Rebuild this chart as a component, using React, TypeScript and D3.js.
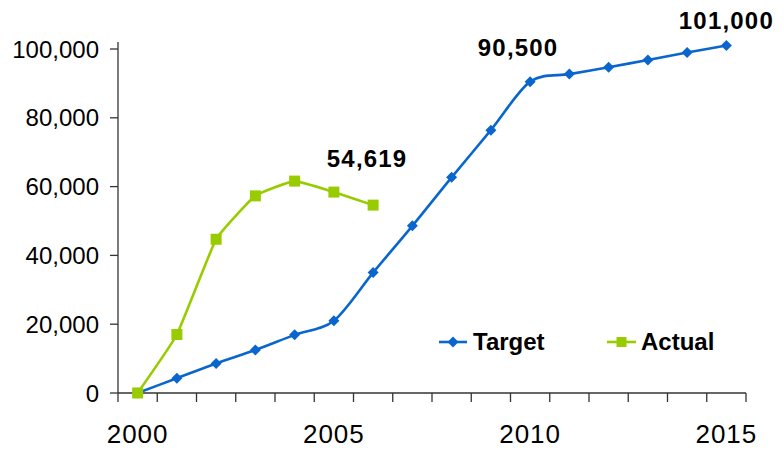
import React from "react";
import * as d3 from "d3";

const years = d3.range(2000, 2016);
const targetValues = [0, 4300, 8600, 12500, 16900, 21000, 35000, 48600, 62700, 76400, 90500, 92700, 94700, 96800, 99000, 101000];
const actualValues = [0, 17000, 44700, 57300, 61600, 58400, 54619];
const yTicks = [0, 20000, 40000, 60000, 80000, 100000];
const xLabelYears = [2000, 2005, 2010, 2015];
const seriesNames = ["Target", "Actual"];

const W = 784;
const H = 450;
const BLUE = "#0A66CC";
const GREEN = "#99CC00";
const FONT = "'Liberation Sans', Arial, sans-serif";

export default function App() {
  const x = d3.scaleBand<number>().domain(years).range([118, 746]).padding(0);
  const y = d3.scaleLinear().domain([0, 100000]).range([393, 49]);
  const cx = (yr: number) => (x(yr) as number) + x.bandwidth() / 2;
  const fmt = d3.format(",");

  const targetLine = d3
    .line<number>()
    .x((_, i) => cx(years[i]))
    .y((v) => y(v))
    .curve(d3.curveCardinal.tension(0.1));

  const actualLine = d3
    .line<number>()
    .x((_, i) => cx(years[i]))
    .y((v) => y(v))
    .curve(d3.curveCardinal.tension(0.65));

  const bandEdges = years.map((yr) => x(yr) as number).concat([x.range()[1]]);

  const diamond = (px: number, py: number, r = 5.5) =>
    `M${px},${py - r}L${px + r},${py}L${px},${py + r}L${px - r},${py}Z`;

  const lastT = targetValues.length - 1;
  const lastA = actualValues.length - 1;

  return (
    <svg width={W} height={H} style={{ display: "block", position: "absolute", left: 0, top: 0 }} fontFamily={FONT}>
      <rect width={W} height={H} fill="#fff" />

      {/* axes */}
      <g stroke="#333" strokeWidth={1.3} fill="none">
        <line x1={118} x2={118} y1={42} y2={393} />
        <line x1={118} x2={746} y1={393} y2={393} />
        {yTicks.map((t) => (
          <line key={t} x1={110} x2={118} y1={y(t)} y2={y(t)} />
        ))}
        {bandEdges.map((e, i) => (
          <line key={i} x1={e} x2={e} y1={393} y2={402} />
        ))}
      </g>

      {yTicks.map((t) => (
        <text key={t} x={99} y={y(t)} dy="0.36em" textAnchor="end" fontSize={24} fill="#000">
          {fmt(t)}
        </text>
      ))}
      {xLabelYears.map((yr) => (
        <text key={yr} x={cx(yr)} y={443} textAnchor="middle" fontSize={26} letterSpacing={1} fill="#000">
          {yr}
        </text>
      ))}

      {/* series */}
      <path d={targetLine(targetValues) || ""} fill="none" stroke={BLUE} strokeWidth={2.6} />
      {targetValues.map((v, i) => (
        <path key={i} d={diamond(cx(years[i]), y(v))} fill={BLUE} />
      ))}
      <path d={actualLine(actualValues) || ""} fill="none" stroke={GREEN} strokeWidth={2.6} />
      {actualValues.map((v, i) => (
        <rect key={i} x={cx(years[i]) - 5.5} y={y(v) - 5.5} width={11} height={11} fill={GREEN} />
      ))}

      {/* value callouts */}
      <g fontSize={24} fontWeight="bold" fill="#000" textAnchor="middle" letterSpacing={1.2}>
        <text x={cx(years[lastA]) - 6} y={167}>{fmt(actualValues[lastA])}</text>
        <text x={cx(2010) - 12} y={56}>{fmt(targetValues[10])}</text>
        <text x={cx(years[lastT])} y={29}>{fmt(targetValues[lastT])}</text>
      </g>

      {/* legend */}
      <g fontSize={24} fontWeight="bold" fill="#000">
        <line x1={439} x2={467} y1={342} y2={342} stroke={BLUE} strokeWidth={2.6} />
        <path d={diamond(453, 342, 5.5)} fill={BLUE} />
        <text x={473} y={350}>{seriesNames[0]}</text>
        <line x1={607} x2={636} y1={342} y2={342} stroke={GREEN} strokeWidth={2.6} />
        <rect x={616.5} y={337} width={10} height={10} fill={GREEN} />
        <text x={641} y={350}>{seriesNames[1]}</text>
      </g>
    </svg>
  );
}
